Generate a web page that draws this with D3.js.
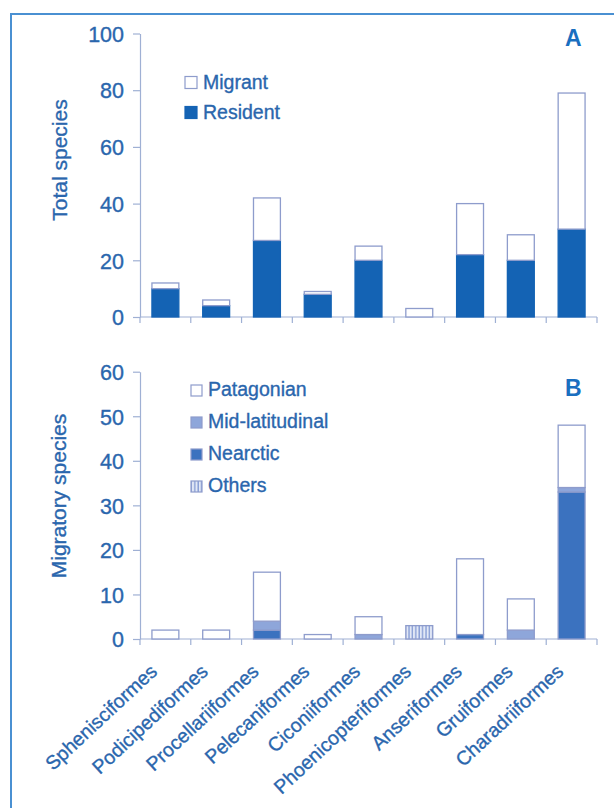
<!DOCTYPE html>
<html>
<head>
<meta charset="utf-8">
<script src="https://cdn.jsdelivr.net/npm/d3@7"></script>
<style>
  body { margin: 0; background: #fff; }
  svg { display: block; font-family: "Liberation Sans", Arial, sans-serif; }
</style>
</head>
<body>
<div id="chart"></div>
<script>
// ---------------------------------------------------------------------------
// Data

const orders = ['Sphenisciformes', 'Podicipediformes', 'Procellariiformes', 'Pelecaniformes',
  'Ciconiiformes', 'Phoenicopteriformes', 'Anseriformes', 'Gruiformes', 'Charadriiformes'];

// panel A
const resident = [10, 4, 27, 8, 20, 0, 22, 20, 31];
const migrant = [2, 2, 15, 1, 5, 3, 18, 9, 48];

// panel B (migratory species by origin)
const nearctic = [0, 0, 2, 0, 0, 0, 1, 0, 33];
const midLatitudinal = [0, 0, 2, 0, 1, 0, 0, 2, 1];
const others = [0, 0, 0, 0, 0, 3, 0, 0, 0];
const patagonian = [2, 2, 11, 1, 4, 0, 17, 7, 14];

const ticksA = [0, 20, 40, 60, 80, 100];
const ticksB = [0, 10, 20, 30, 40, 50, 60];

// ---------------------------------------------------------------------------
// Styles

const W = 614, H = 808;
const textColor = '#2a66ad';
const axisColor = '#9fb0d4';
const barStroke = '#8e9ccc';
const colors = {
  Resident: '#1463b4',
  Migrant: '#ffffff',
  Nearctic: '#3b72bf',
  'Mid-latitudinal': '#8ea6da',
  Others: 'url(#hatch)',
  Patagonian: '#ffffff'
};

const svg = d3.select('#chart').append('svg')
  .attr('width', W)
  .attr('height', H);

const defs = svg.append('defs');
const hatch = defs.append('pattern')
  .attr('id', 'hatch')
  .attr('patternUnits', 'userSpaceOnUse')
  .attr('width', 3.4)
  .attr('height', 10);
hatch.append('rect').attr('width', 3.4).attr('height', 10).attr('fill', '#e2e8f6');
hatch.append('line')
  .attr('x1', 1).attr('x2', 1).attr('y1', 0).attr('y2', 10)
  .attr('stroke', '#8299d3').attr('stroke-width', 1.3);

// frame (left + top)
svg.append('path')
  .attr('d', `M11,${H} L11,14 L${W},14`)
  .attr('fill', 'none')
  .attr('stroke', '#4a90d2')
  .attr('stroke-width', 2);

const x = d3.scaleBand()
  .domain(orders)
  .range([140, 597])
  .paddingInner(0.47)
  .paddingOuter(0.235);

// texts in the source look slightly heavier than plain Arial
function heavy(sel) {
  return sel.attr('fill', textColor)
    .attr('stroke', textColor)
    .attr('stroke-width', 0.35);
}

function drawPanel(opts) {
  const y = d3.scaleLinear().domain(opts.domain).range(opts.yRange);
  const g = svg.append('g');

  // y axis
  const yAxis = g.append('g')
    .attr('transform', `translate(${x.range()[0]},0)`)
    .call(d3.axisLeft(y).tickValues(opts.ticks).tickSize(7).tickPadding(9).tickSizeOuter(0));
  yAxis.select('.domain').attr('stroke', axisColor).attr('stroke-width', 1.2);
  yAxis.selectAll('.tick line').attr('stroke', axisColor).attr('stroke-width', 1.2);
  yAxis.selectAll('.tick text')
    .call(heavy)
    .style('font-size', '21.5px')
    .attr('dy', '0.36em');

  // x axis line and boundary ticks
  const y0 = y(0);
  g.append('line')
    .attr('x1', x.range()[0]).attr('x2', x.range()[1])
    .attr('y1', y0).attr('y2', y0)
    .attr('stroke', axisColor).attr('stroke-width', 1.2);
  const bounds = orders.map(d => x(d) - (x.step() - x.bandwidth()) / 2).concat([x.range()[1]]);
  g.selectAll('line.xtick')
    .data(bounds)
    .join('line')
    .attr('class', 'xtick')
    .attr('x1', d => d).attr('x2', d => d)
    .attr('y1', y0).attr('y2', y0 + 6)
    .attr('stroke', axisColor).attr('stroke-width', 1.2);

  // stacked bars
  const rows = orders.map((o, i) => {
    const r = { order: o };
    opts.keys.forEach((k, j) => { r[k] = opts.series[j][i]; });
    return r;
  });
  const stacked = d3.stack().keys(opts.keys)(rows);
  g.selectAll('g.layer')
    .data(stacked)
    .join('g')
    .attr('class', 'layer')
    .selectAll('rect')
    .data(layer => layer.map(d => Object.assign(d, { key: layer.key })))
    .join('rect')
    .filter(d => d[1] - d[0] > 0)
    .attr('x', d => x(d.data.order))
    .attr('width', x.bandwidth())
    .attr('y', d => y(d[1]))
    .attr('height', d => y(d[0]) - y(d[1]))
    .attr('fill', d => colors[d.key])
    .attr('stroke', d => (d.key === 'Resident' ? colors.Resident : barStroke))
    .attr('stroke-width', 1.3);

  // y title
  g.append('text')
    .attr('transform', `translate(${opts.titleX},${opts.titleY}) rotate(-90)`)
    .attr('text-anchor', 'middle')
    .call(heavy)
    .style('font-size', '21px')
    .text(opts.title);

  // legend
  const leg = g.append('g');
  opts.legend.forEach((k, i) => {
    const by = opts.legendY + i * opts.legendStep;
    leg.append('rect')
      .attr('x', opts.legendX)
      .attr('y', by - opts.sw)
      .attr('width', opts.sw)
      .attr('height', opts.sw)
      .attr('fill', colors[k])
      .attr('stroke', k === 'Resident' ? colors.Resident : barStroke)
      .attr('stroke-width', 1.2);
    leg.append('text')
      .attr('x', opts.legendX + opts.sw + 6)
      .attr('y', by)
      .call(heavy)
      .style('font-size', '19.5px')
      .text(k);
  });

  // panel letter
  g.append('text')
    .attr('x', 565)
    .attr('y', opts.letterY)
    .attr('fill', '#1a6fc0')
    .style('font-size', '23px')
    .style('font-weight', 'bold')
    .text(opts.letter);

  return y;
}

drawPanel({
  domain: [0, 100], yRange: [317, 33.5], ticks: ticksA,
  keys: ['Resident', 'Migrant'], series: [resident, migrant],
  title: 'Total species', titleX: 67, titleY: 160,
  legend: ['Migrant', 'Resident'], legendX: 185, legendY: 88.5, legendStep: 30, sw: 12,
  letter: 'A', letterY: 46
});

const yB = drawPanel({
  domain: [0, 60], yRange: [639, 371.7], ticks: ticksB,
  keys: ['Nearctic', 'Mid-latitudinal', 'Others', 'Patagonian'],
  series: [nearctic, midLatitudinal, others, patagonian],
  title: 'Migratory species', titleX: 66, titleY: 496,
  legend: ['Patagonian', 'Mid-latitudinal', 'Nearctic', 'Others'],
  legendX: 191, legendY: 396, legendStep: 32, sw: 11,
  letter: 'B', letterY: 396
});

// rotated category labels
svg.append('g')
  .selectAll('text')
  .data(orders)
  .join('text')
  .attr('transform', d => `translate(${x(d) + x.bandwidth() / 2 - 7},${yB(0) + 34}) rotate(-43)`)
  .attr('text-anchor', 'end')
  .call(heavy)
  .style('font-size', '19.5px')
  .text(d => d);
</script>
</body>
</html>
